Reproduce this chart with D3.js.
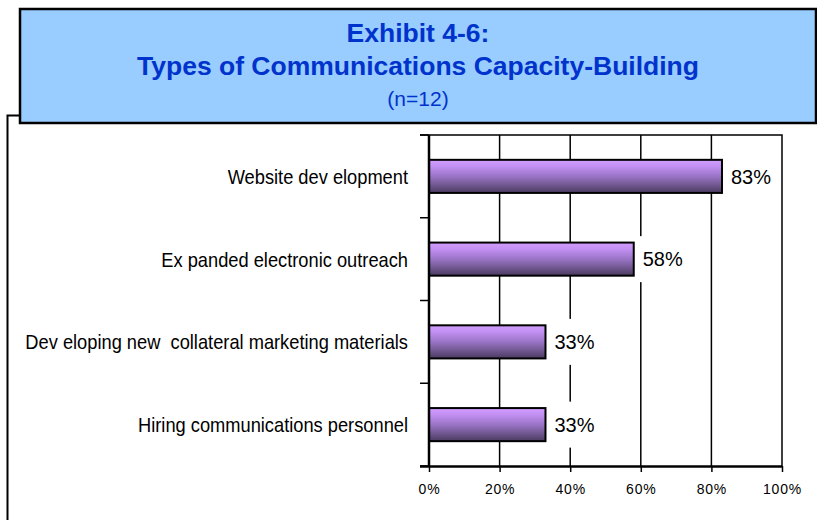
<!DOCTYPE html>
<html>
<head>
<meta charset="utf-8">
<script src="https://cdn.jsdelivr.net/npm/d3@7"></script>
<style>
  html, body { margin: 0; padding: 0; background: #fff; }
  svg { display: block; font-family: "Liberation Sans", Arial, sans-serif; }
</style>
</head>
<body>
<svg id="chart" width="817" height="520"></svg>
<script>
// Survey results: share of grantees (n=12) by type of capacity-building
const categories = [
  "Website dev elopment",
  "Ex panded electronic outreach",
  "Dev eloping new\u00a0 collateral marketing materials",
  "Hiring communications personnel"
];
const values = [0.83, 0.58, 0.33, 0.33];
const valueLabels = ["83%", "58%", "33%", "33%"];
const tickValues = [0, 0.2, 0.4, 0.6, 0.8, 1.0];
const titleLines = ["Exhibit 4-6:", "Types of Communications Capacity-Building", "(n=12)"];

const svg = d3.select("#chart");

// Plot geometry
const plot = { left: 429, right: 782, top: 135, bottom: 466 };

const x = d3.scaleLinear().domain([0, 1]).range([plot.left, plot.right]);
const y = d3.scaleBand().domain(categories)
  .range([plot.top, plot.bottom])
  .paddingInner(0.6).paddingOuter(0.3);
const yEdges = d3.scaleLinear().domain([0, categories.length]).range([plot.top, plot.bottom]);

// Bar gradient: light lavender on top fading to deep purple
const defs = svg.append("defs");
const grad = defs.append("linearGradient")
  .attr("id", "barGrad").attr("x1", 0).attr("y1", 0).attr("x2", 0).attr("y2", 1);
[[0, "#d29eff"], [0.2, "#c28ff2"], [0.5, "#9a74c6"], [0.8, "#6a5388"], [1, "#4a3a60"]]
  .forEach(([o, c]) => grad.append("stop").attr("offset", o).attr("stop-color", c));

// Outer chart frame (runs behind the title box)
svg.append("rect")
  .attr("x", 7.5).attr("y", 115.5).attr("width", 900).attr("height", 500)
  .attr("fill", "none").attr("stroke", "#000").attr("stroke-width", 2);

// Title box
svg.append("rect")
  .attr("x", 20).attr("y", 9).attr("width", 796).attr("height", 114)
  .attr("fill", "#99ccff").attr("stroke", "#000").attr("stroke-width", 2.5);

const titleG = svg.append("g").attr("fill", "#0033cc").attr("text-anchor", "middle");
titleG.append("text").attr("x", 418).attr("y", 42)
  .attr("font-size", 26.5).attr("font-weight", "bold").text(titleLines[0]);
titleG.append("text").attr("x", 418).attr("y", 75)
  .attr("font-size", 26.5).attr("font-weight", "bold").text(titleLines[1]);
titleG.append("text").attr("x", 418).attr("y", 106)
  .attr("font-size", 21).text(titleLines[2]);

// Vertical gridlines
svg.append("g").selectAll("line")
  .data(tickValues.slice(1, -1)).join("line")
  .attr("x1", d => x(d)).attr("x2", d => x(d))
  .attr("y1", plot.top).attr("y2", plot.bottom)
  .attr("stroke", "#000").attr("stroke-width", 1.5);

// Plot border: top and right edges
svg.append("path")
  .attr("d", `M${plot.left - 9},${plot.top}H${plot.right}V${plot.bottom}`)
  .attr("fill", "none").attr("stroke", "#000").attr("stroke-width", 1.5);

// Category axis: ticks at band boundaries
svg.append("g").selectAll("line")
  .data(d3.range(categories.length + 1)).join("line")
  .attr("x1", plot.left - 9).attr("x2", plot.left)
  .attr("y1", d => yEdges(d)).attr("y2", d => yEdges(d))
  .attr("stroke", "#000").attr("stroke-width", 1.5);

// Bars
svg.append("g").selectAll("rect")
  .data(values).join("rect")
  .attr("x", x(0))
  .attr("y", (d, i) => y(categories[i]))
  .attr("width", d => x(d) - x(0))
  .attr("height", y.bandwidth())
  .attr("fill", "url(#barGrad)")
  .attr("stroke", "#000").attr("stroke-width", 2);

// Value labels with white backing boxes
const lab = svg.append("g").selectAll("g")
  .data(values).join("g");
lab.append("rect")
  .attr("x", d => x(d) + 4)
  .attr("y", (d, i) => y(categories[i]) + y.bandwidth() / 2 - 23)
  .attr("width", 53).attr("height", 46)
  .attr("fill", "#fff");
lab.append("text")
  .attr("x", d => x(d) + 9)
  .attr("y", (d, i) => y(categories[i]) + y.bandwidth() / 2)
  .attr("dy", "0.36em")
  .attr("font-size", 20).attr("fill", "#000")
  .text((d, i) => valueLabels[i]);

// Left axis line
svg.append("line")
  .attr("x1", plot.left).attr("x2", plot.left)
  .attr("y1", plot.top).attr("y2", plot.bottom)
  .attr("stroke", "#000").attr("stroke-width", 2.5);

// Category labels (condensed)
svg.append("g").selectAll("text")
  .data(categories).join("text")
  .attr("transform", d => `translate(408,${y(d) + y.bandwidth() / 2}) scale(0.87,1)`)
  .attr("dy", "0.36em")
  .attr("text-anchor", "end")
  .attr("font-size", 21).attr("fill", "#000")
  .text(d => d);

// Value axis
const xAxis = d3.axisBottom(x)
  .tickValues(tickValues)
  .tickFormat(d3.format(".0%"))
  .tickSize(6).tickSizeOuter(0).tickPadding(12);
const gx = svg.append("g").attr("transform", `translate(0,${plot.bottom})`).call(xAxis);
gx.select(".domain").attr("d", `M${plot.left - 9},0.5H${plot.right}`)
  .attr("stroke", "#000").attr("stroke-width", 2.5);
gx.selectAll(".tick line").attr("stroke", "#000").attr("stroke-width", 1.5);
gx.selectAll(".tick text")
  .attr("font-family", "'Liberation Sans', Arial, sans-serif")
  .attr("font-size", 14).attr("letter-spacing", "0.8px").attr("fill", "#000");
</script>
</body>
</html>
